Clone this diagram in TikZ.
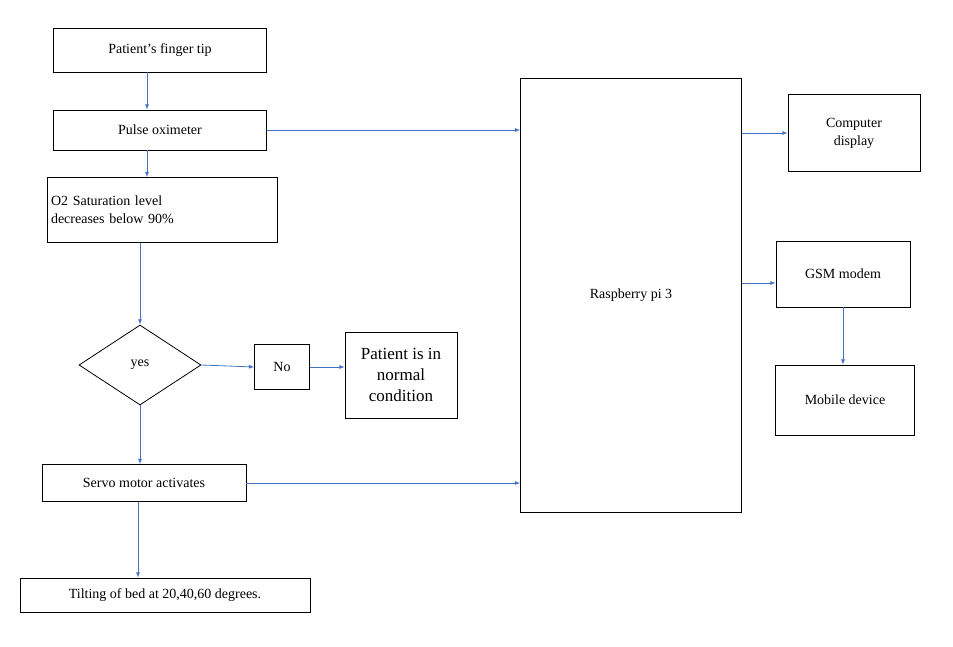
\documentclass[tikz,border=0pt]{standalone}
\usepackage{fontspec}
\setmainfont{Liberation Serif}
\usetikzlibrary{shapes.geometric}
\begin{document}
\begin{tikzpicture}[x=1pt,y=-1pt,
    every node/.style={font=\fontsize{14}{18}\selectfont},
    block/.style={draw,rectangle,thick,inner sep=2pt},
    flow/.style={-latex,draw={rgb,255:red,68;green,114;blue,196},thick}]
\useasboundingbox (0,0) rectangle (953,647);
\node[block,minimum width=213,minimum height=44] (tip) at (160,50) {Patient's finger tip};
\node[block,minimum width=213,minimum height=40] (pulse) at (160,130) {Pulse oximeter};
\node[block,minimum width=230,minimum height=65,align=left,text width=222] (sat) at (162,210) {O2 Saturation level\\decreases below 90\%};
\node[draw,thick,diamond,aspect=1.5,minimum width=122,minimum height=80,inner sep=0pt] (yes) at (140,365) {yes};
\node[block,minimum width=55,minimum height=45] (no) at (282,367) {No};
\node[block,minimum width=112,minimum height=86,align=center,font=\fontsize{17}{21}\selectfont] (normal) at (401,375) {Patient is in\\normal\\condition};
\node[block,minimum width=204,minimum height=37] (servo) at (144,483) {Servo motor activates};
\node[block,minimum width=290,minimum height=34] (tilt) at (165,595) {Tilting of bed at 20,40,60 degrees.};
\node[block,minimum width=221,minimum height=434] (pi) at (631,295) {Raspberry pi 3};
\node[block,minimum width=132,minimum height=77,align=center] (disp) at (854,133) {Computer\\display};
\node[block,minimum width=134,minimum height=66] (gsm) at (843,274) {GSM modem};
\node[block,minimum width=139,minimum height=70] (mobile) at (845,400) {Mobile device};

\draw[flow] ([xshift=-13]tip.south) -- ([xshift=-13]pulse.north);
\draw[flow] ([xshift=-13]pulse.south) -- ([xshift=-15]sat.north);
\draw[flow] ([xshift=-22]sat.south) -- (yes.north);
\draw[flow] (yes.east) -- (no.west);
\draw[flow] (no.east) -- (normal.west |- no.east);
\draw[flow] (yes.south) -- ([xshift=-4]servo.north);
\draw[flow] ([xshift=-6]servo.south) -- ([xshift=-27]tilt.north);
\draw[flow] (pulse.east) -- (pulse.east -| pi.west);
\draw[flow] (servo.east) -- (servo.east -| pi.west);
\draw[flow] (disp.west -| pi.east) -- (disp.west);
\draw[flow] ([yshift=-9]gsm.west -| pi.east) -- ([yshift=-9]gsm.west);
\draw[flow] (gsm.south) -- (gsm.south |- mobile.north);
\end{tikzpicture}
\end{document}
